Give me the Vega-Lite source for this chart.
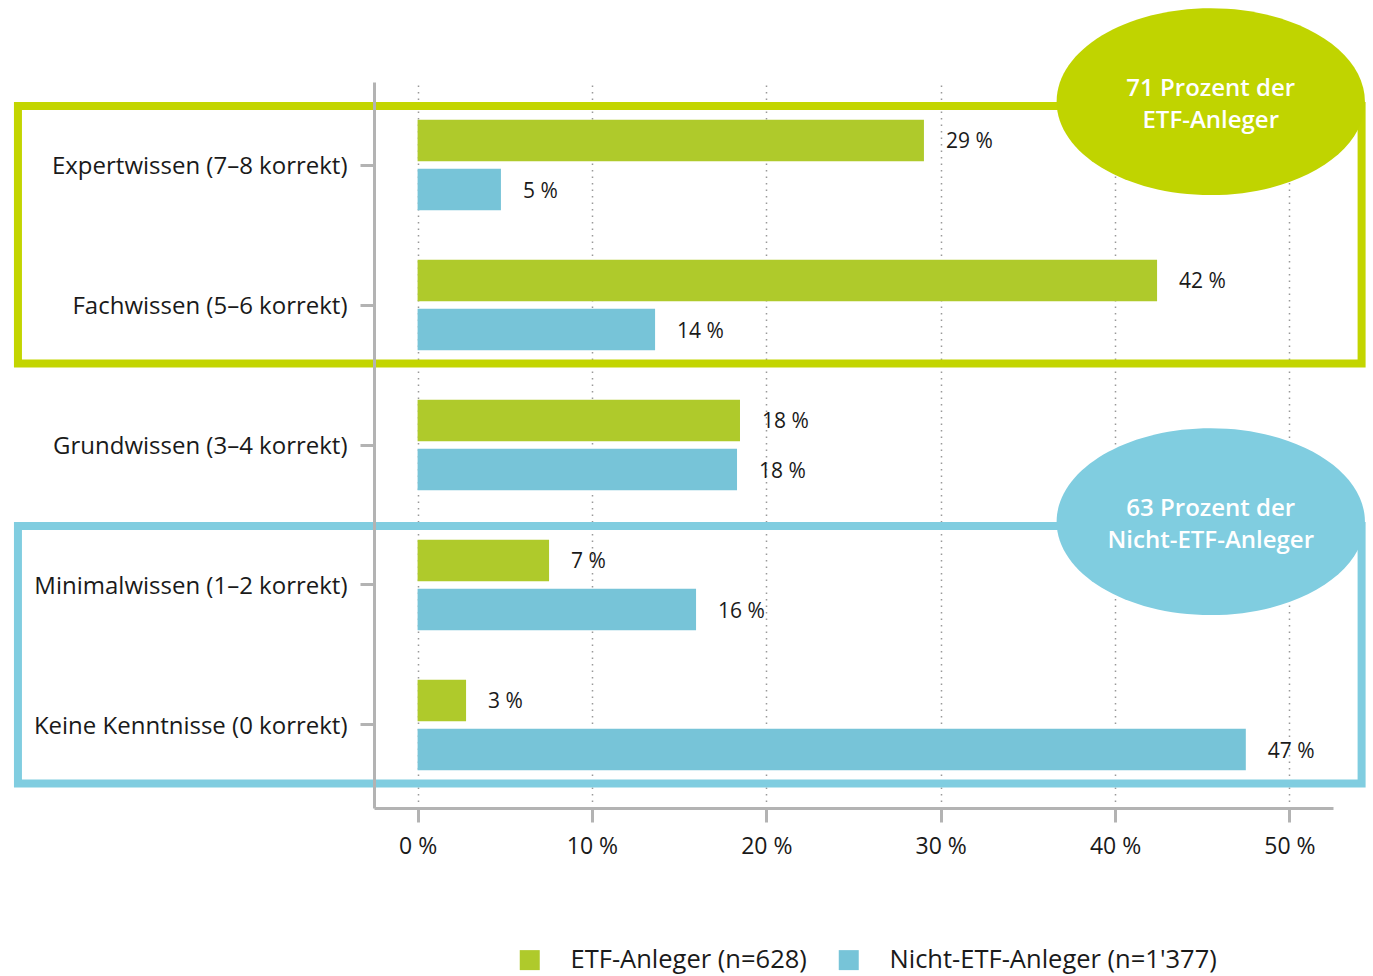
{
  "$schema": "https://vega.github.io/schema/vega-lite/v6.json",
  "autosize": {"type": "none"},
  "padding": {"left": 374, "top": 82, "right": 40, "bottom": 168},
  "width": 959,
  "height": 726,
  "background": "white",
  "config": {
    "view": {"stroke": null},
    "font": "Open Sans",
    "text": {"font": "Open Sans"}
  },
  "resolve": {"scale": {"y": "independent"}},
  "layer": [
    {
      "data": {
        "values": [
          {"kategorie": "Expertwissen (7–8 korrekt)", "gruppe": "ETF-Anleger (n=628)", "wert": 29.04, "label": "29 %"},
          {"kategorie": "Expertwissen (7–8 korrekt)", "gruppe": "Nicht-ETF-Anleger (n=1'377)", "wert": 4.78, "label": "5 %"},
          {"kategorie": "Fachwissen (5–6 korrekt)", "gruppe": "ETF-Anleger (n=628)", "wert": 42.41, "label": "42 %"},
          {"kategorie": "Fachwissen (5–6 korrekt)", "gruppe": "Nicht-ETF-Anleger (n=1'377)", "wert": 13.62, "label": "14 %"},
          {"kategorie": "Grundwissen (3–4 korrekt)", "gruppe": "ETF-Anleger (n=628)", "wert": 18.49, "label": "18 %"},
          {"kategorie": "Grundwissen (3–4 korrekt)", "gruppe": "Nicht-ETF-Anleger (n=1'377)", "wert": 18.32, "label": "18 %"},
          {"kategorie": "Minimalwissen (1–2 korrekt)", "gruppe": "ETF-Anleger (n=628)", "wert": 7.54, "label": "7 %"},
          {"kategorie": "Minimalwissen (1–2 korrekt)", "gruppe": "Nicht-ETF-Anleger (n=1'377)", "wert": 15.97, "label": "16 %"},
          {"kategorie": "Keine Kenntnisse (0 korrekt)", "gruppe": "ETF-Anleger (n=628)", "wert": 2.78, "label": "3 %"},
          {"kategorie": "Keine Kenntnisse (0 korrekt)", "gruppe": "Nicht-ETF-Anleger (n=1'377)", "wert": 47.5, "label": "47 %"}
        ]
      },
      "encoding": {
        "y": {
          "field": "kategorie",
          "type": "nominal",
          "sort": ["Expertwissen (7–8 korrekt)", "Fachwissen (5–6 korrekt)", "Grundwissen (3–4 korrekt)", "Minimalwissen (1–2 korrekt)", "Keine Kenntnisse (0 korrekt)"],
          "scale": {"paddingInner": 0.352, "paddingOuter": 0.2689},
          "axis": {
            "title": null,
            "domainColor": "#b3b3b3",
            "domainWidth": 3,
            "tickColor": "#b3b3b3",
            "tickWidth": 3,
            "tickSize": 14,
            "labelPadding": 13,
            "labelFontSize": 24,
            "labelColor": "#1a1a1a",
            "labelLimit": 0,
            "labelOffset": 2,
            "zindex": 1
          }
        },
        "yOffset": {
          "field": "gruppe",
          "type": "nominal",
          "scale": {"domain": ["ETF-Anleger (n=628)", "Nicht-ETF-Anleger (n=1'377)"], "paddingInner": 0.149, "paddingOuter": 0}
        },
        "x": {
          "field": "wert",
          "type": "quantitative",
          "scale": {"domain": [-2.5, 52.5], "nice": false, "zero": false},
          "axis": {
            "title": null,
            "values": [0, 10, 20, 30, 40, 50],
            "labelExpr": "datum.value + ' %'",
            "grid": true,
            "gridDash": [1.5, 5],
            "gridColor": "#999999",
            "gridWidth": 1.5,
            "domainColor": "#b3b3b3",
            "domainWidth": 3,
            "tickColor": "#b3b3b3",
            "tickWidth": 3,
            "tickSize": 14,
            "labelFontSize": 23,
            "labelColor": "#1a1a1a",
            "labelPadding": 13
          }
        }
      },
      "layer": [
        {
          "mark": {"type": "bar", "opacity": 1},
          "encoding": {
            "color": {
              "field": "gruppe",
              "type": "nominal",
              "scale": {"domain": ["ETF-Anleger (n=628)", "Nicht-ETF-Anleger (n=1'377)"], "range": ["#afca2b", "#77c4d8"]},
              "legend": {
                "orient": "none",
                "legendX": 143,
                "legendY": 865,
                "direction": "horizontal",
                "title": null,
                "symbolType": "square",
                "symbolSize": 400,
                "symbolStrokeWidth": 0,
                "symbolOpacity": 1,
                "labelFontSize": 25.5,
                "labelColor": "#1a1a1a",
                "labelOffset": 28,
                "columnPadding": 29,
                "padding": 0,
                "labelLimit": 0
              }
            }
          }
        },
        {
          "mark": {"type": "text", "align": "left", "baseline": "middle", "dx": 22, "dy": 2, "fontSize": 21, "color": "#1a1a1a"},
          "encoding": {"text": {"field": "label", "type": "nominal"}}
        }
      ]
    },
    {
      "layer": [
        {
          "data": {
            "values": [
              {"grp": "ETF", "x1": -22.92, "x2": 54.14, "y1": -0.4214, "y2": 1.4179},
              {"grp": "Nicht", "x1": -22.92, "x2": 54.14, "y1": 2.5786, "y2": 4.4179}
            ]
          },
          "mark": {"type": "rect", "filled": false, "strokeWidth": 8, "strokeJoin": "miter"},
          "encoding": {
            "x": {"field": "x1", "type": "quantitative", "scale": {"domain": [-2.5, 52.5], "nice": false, "zero": false}},
            "x2": {"field": "x2"},
            "y": {"field": "y1", "type": "quantitative", "scale": {"domain": [-0.5929, 4.5929], "reverse": true, "nice": false, "zero": false}, "axis": null},
            "y2": {"field": "y2"},
            "stroke": {"field": "grp", "type": "nominal", "scale": {"domain": ["ETF", "Nicht"], "range": ["#c3d500", "#80cde0"]}, "legend": null}
          }
        },
        {
          "data": {
            "values": [
              {"grp": "ETF", "x": 45.49, "y": -0.452, "text": ["71 Prozent der", "ETF-Anleger"]},
              {"grp": "Nicht", "x": 45.49, "y": 2.548, "text": ["63 Prozent der", "Nicht-ETF-Anleger"]}
            ]
          },
          "encoding": {
            "x": {"field": "x", "type": "quantitative", "scale": {"domain": [-2.5, 52.5], "nice": false, "zero": false}},
            "y": {"field": "y", "type": "quantitative", "scale": {"domain": [-0.5929, 4.5929], "reverse": true, "nice": false, "zero": false}, "axis": null}
          },
          "layer": [
            {
              "mark": {
                "type": "point",
                "shape": "M1,0C1,0.3345,0.5523,0.6056,0,0.6056C-0.5523,0.6056,-1,0.3345,-1,0C-1,-0.3345,-0.5523,-0.6056,0,-0.6056C0.5523,-0.6056,1,-0.3345,1,0Z",
                "size": 95049,
                "filled": true,
                "opacity": 1,
                "strokeWidth": 0
              },
              "encoding": {
                "fill": {"field": "grp", "type": "nominal", "scale": {"domain": ["ETF", "Nicht"], "range": ["#c0d400", "#80cde0"]}, "legend": null}
              }
            },
            {
              "mark": {"type": "text", "align": "center", "baseline": "middle", "fontSize": 24, "fontWeight": 600, "lineHeight": 32, "color": "white", "dy": -13},
              "encoding": {"text": {"field": "text", "type": "nominal"}}
            }
          ]
        }
      ]
    }
  ]
}
